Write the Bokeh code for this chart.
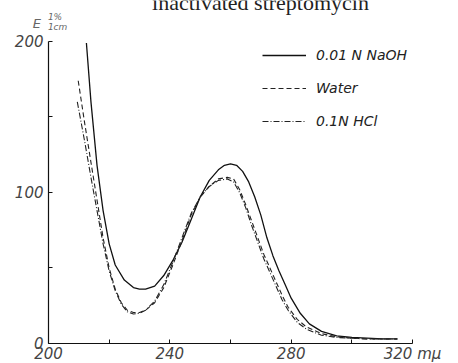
from bokeh.plotting import figure
from bokeh.models import FixedTicker, Legend, LegendItem, Label, LinearAxis
from bokeh.embed import file_html
from bokeh.resources import INLINE

# Wavelength (mµ) and E(1%,1cm) values
naoh_wl = [212.5, 214, 216, 218, 220, 222, 225, 228, 230, 232, 235, 238, 241, 244, 247,
           250, 253, 256, 258, 260, 262, 264, 266, 268, 270, 272, 274, 276, 278, 280,
           283, 286, 290, 295, 300, 305, 310, 315]
naoh_e = [199, 160, 118, 88, 66, 52, 42, 37, 36, 36, 38, 45, 55, 67, 82,
          97, 108, 115, 118, 119, 118, 114, 107, 97, 85, 70, 58, 48, 39, 30,
          20, 13, 8, 5, 4, 3.5, 3, 3]

water_wl = [209.8, 212, 214, 216, 218, 220, 222, 224, 226, 228, 230, 232, 235, 238, 241,
            244, 247, 250, 253, 256, 259, 261, 263, 265, 267, 269, 271, 273, 275, 277,
            279, 282, 285, 290, 295, 300, 305, 310, 315]
water_e = [174, 145, 120, 95, 70, 50, 36, 27, 22, 20.5, 20.5, 22, 27, 37, 52,
           68, 85, 97, 104, 109, 110, 109, 102, 92, 81, 70, 59, 50, 41, 32,
           24, 16, 11, 6.5, 4.5, 3.5, 3, 3, 3]

hcl_wl = [209.5, 212, 214, 216, 218, 220, 222, 224, 226, 228, 230, 232, 235, 238, 241,
          244, 247, 250, 253, 256, 259, 261, 263, 265, 267, 269, 271, 273, 275, 277,
          279, 282, 285, 290, 295, 300, 305, 310, 315]
hcl_e = [160, 133, 110, 88, 66, 48, 35, 26, 21, 19.5, 20, 22, 28, 39, 54,
         70, 86, 97, 104, 108, 109, 107, 100, 90, 78, 67, 56, 47, 38, 29,
         22, 14, 9.5, 5.5, 4, 3.5, 3, 3, 3]

series_labels = ["0.01 N NaOH", "Water", "0.1N HCl"]
x_ticks = [200, 220, 240, 260, 280, 300, 320]
x_tick_labels = {200: "200", 220: "", 240: "240", 260: "", 280: "280", 300: "", 320: "320 mµ"}
y_ticks = [0, 50, 100, 150, 200]
y_tick_labels = {0: "0", 50: "", 100: "100", 150: "", 200: "200"}
title_text = "inactivated streptomycin"
x_bounds = (200, 320)
y_bounds = (0, 200)

LBL = "#444"
FONT = "DejaVu Sans"

# The frame fills the whole canvas; the axes sit at fixed data positions
p = figure(width=458, height=363, x_range=(184.18, 335.16), y_range=(-13.25, 227.15),
           output_backend="svg", toolbar_location=None,
           x_axis_location=None, y_axis_location=None,
           min_border=0, min_border_left=0, min_border_right=0,
           min_border_top=0, min_border_bottom=0)
p.xgrid.visible = False
p.ygrid.visible = False
p.outline_line_color = None
p.background_fill_color = "white"
p.border_fill_color = "white"

xax = LinearAxis(fixed_location=y_bounds[0], bounds=x_bounds)
yax = LinearAxis(fixed_location=x_bounds[0], bounds=y_bounds)
for ax, ticks, labels in ((xax, x_ticks, x_tick_labels), (yax, y_ticks, y_tick_labels)):
    ax.ticker = FixedTicker(ticks=ticks)
    ax.major_label_overrides = labels
    ax.major_tick_in = 4
    ax.major_tick_out = 0
    ax.minor_tick_in = 0
    ax.minor_tick_out = 0
    ax.axis_line_color = "#111"
    ax.axis_line_width = 1.2
    ax.major_tick_line_color = "#111"
    ax.major_label_text_font = FONT
    ax.major_label_text_font_style = "italic"
    ax.major_label_text_font_size = "15px"
    ax.major_label_text_color = LBL
xax.major_label_standoff = 2
yax.major_label_standoff = 5
p.add_layout(xax, "below")
p.add_layout(yax, "left")

r1 = p.line(naoh_wl, naoh_e, line_color="#111", line_width=1.3)
r2 = p.line(water_wl, water_e, line_color="#222", line_width=1.1, line_dash="5 3")
r3 = p.line(hcl_wl, hcl_e, line_color="#222", line_width=1.1, line_dash="6 2 1 2")

legend = Legend(items=[LegendItem(label=series_labels[0], renderers=[r1]),
                       LegendItem(label=series_labels[1], renderers=[r2]),
                       LegendItem(label=series_labels[2], renderers=[r3])],
                location=(262, 232), padding=0, margin=0, spacing=13,
                glyph_width=44, glyph_height=20, label_height=20, label_standoff=10,
                label_text_font=FONT, label_text_font_style="italic",
                label_text_font_size="14px", label_text_color="#222",
                background_fill_alpha=0, border_line_color=None)
p.add_layout(legend, "center")

# Title (partly cut off at the top) and the axis caption E(1%, 1cm)
p.add_layout(Label(x=269.9, y=225.6, text=title_text, text_align="center",
                   text_baseline="alphabetic", text_font="Liberation Serif",
                   text_font_size="22px", text_color="#222"))
p.add_layout(Label(x=194.8, y=211.9, text="E", text_font=FONT, text_font_style="italic",
                   text_font_size="13px", text_color="#666", text_baseline="alphabetic"))
p.add_layout(Label(x=199.8, y=216.2, text="1%", text_font=FONT, text_font_style="italic",
                   text_font_size="9px", text_color="#666", text_baseline="alphabetic"))
p.add_layout(Label(x=199.8, y=209.6, text="1cm", text_font=FONT, text_font_style="italic",
                   text_font_size="9px", text_color="#666", text_baseline="alphabetic"))

open("out.html", "w").write(file_html(p, INLINE))
